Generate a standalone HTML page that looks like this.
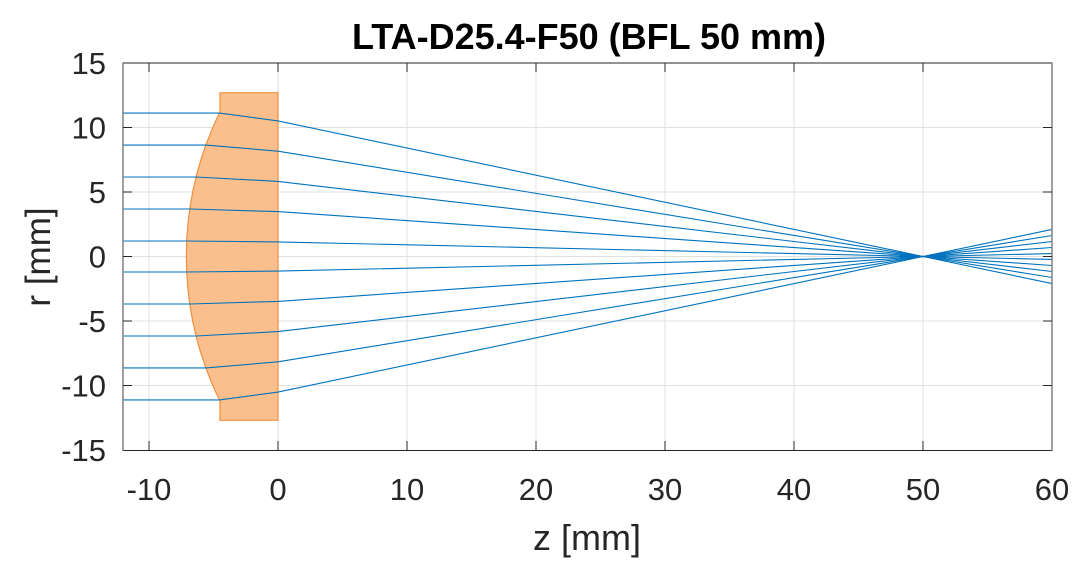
<!DOCTYPE html>
<html><head><meta charset="utf-8"><style>
html,body{margin:0;padding:0;background:#fff;}
svg{display:block;}
text{font-family:"Liberation Sans",sans-serif;fill:#262626;}
</style></head><body>
<svg width="1089" height="577" viewBox="0 0 1089 577" xmlns="http://www.w3.org/2000/svg">
<rect x="0" y="0" width="1089" height="577" fill="#fff"/>
<g stroke="#e0e0e0" stroke-width="1">
<line x1="149" y1="63" x2="149" y2="450"/><line x1="278" y1="63" x2="278" y2="450"/>
<line x1="407" y1="63" x2="407" y2="450"/><line x1="536" y1="63" x2="536" y2="450"/>
<line x1="665" y1="63" x2="665" y2="450"/><line x1="794" y1="63" x2="794" y2="450"/>
<line x1="923" y1="63" x2="923" y2="450"/>
<line x1="123" y1="127.5" x2="1052" y2="127.5"/><line x1="123" y1="192" x2="1052" y2="192"/>
<line x1="123" y1="256.5" x2="1052" y2="256.5"/><line x1="123" y1="321" x2="1052" y2="321"/>
<line x1="123" y1="385.5" x2="1052" y2="385.5"/>
</g>
<path d="M219.95,92.7 L219.95,112 A327.7,327.7 0 0 0 219.95,401 L219.95,420.3 L278,420.3 L278,92.7 Z" fill="#fbbf8e" stroke="#f0903f" stroke-width="1.2"/>
<g fill="none" stroke="#0072bd" stroke-width="1.1">
<polyline points="123,113.05 219.5,113.05 278,120.9 923,256.5 1052,283.6"/>
<polyline points="123,145.04 205.95,145.04 278,151.2 923,256.5 1052,277.5"/>
<polyline points="123,177 196.2,177 278,181.4 923,256.5 1052,271.5"/>
<polyline points="123,209 189.9,209 278,211.6 923,256.5 1052,265.5"/>
<polyline points="123,241 186.8,241 278,241.9 923,256.5 1052,259.4"/>
<polyline points="123,272 186.8,272 278,271.1 923,256.5 1052,253.6"/>
<polyline points="123,304 189.9,304 278,301.4 923,256.5 1052,247.5"/>
<polyline points="123,336 196.2,336 278,331.6 923,256.5 1052,241.5"/>
<polyline points="123,367.96 205.95,367.96 278,361.8 923,256.5 1052,235.5"/>
<polyline points="123,399.95 219.5,399.95 278,392.1 923,256.5 1052,229.4"/>
</g>
<rect x="123" y="63" width="929" height="387.5" fill="none" stroke="#262626" stroke-width="1"/>
<line x1="123" y1="63" x2="123" y2="450.5" stroke="#808080" stroke-width="1.5"/>
<line x1="1052" y1="63" x2="1052" y2="450.5" stroke="#808080" stroke-width="1.5"/>
<g stroke="#262626" stroke-width="1">
<line x1="149" y1="450" x2="149" y2="441"/><line x1="278" y1="450" x2="278" y2="441"/><line x1="407" y1="450" x2="407" y2="441"/><line x1="536" y1="450" x2="536" y2="441"/><line x1="665" y1="450" x2="665" y2="441"/><line x1="794" y1="450" x2="794" y2="441"/><line x1="923" y1="450" x2="923" y2="441"/>
<line x1="149" y1="63" x2="149" y2="72"/><line x1="278" y1="63" x2="278" y2="72"/><line x1="407" y1="63" x2="407" y2="72"/><line x1="536" y1="63" x2="536" y2="72"/><line x1="665" y1="63" x2="665" y2="72"/><line x1="794" y1="63" x2="794" y2="72"/><line x1="923" y1="63" x2="923" y2="72"/>
<line x1="123" y1="127.5" x2="132" y2="127.5"/><line x1="123" y1="192" x2="132" y2="192"/><line x1="123" y1="256.5" x2="132" y2="256.5"/><line x1="123" y1="321" x2="132" y2="321"/><line x1="123" y1="385.5" x2="132" y2="385.5"/>
<line x1="1052" y1="127.5" x2="1043" y2="127.5"/><line x1="1052" y1="192" x2="1043" y2="192"/><line x1="1052" y1="256.5" x2="1043" y2="256.5"/><line x1="1052" y1="321" x2="1043" y2="321"/><line x1="1052" y1="385.5" x2="1043" y2="385.5"/>
</g>
<g font-size="31" text-anchor="middle">
<text x="149" y="500">-10</text><text x="278" y="500">0</text><text x="407" y="500">10</text><text x="536" y="500">20</text><text x="665" y="500">30</text><text x="794" y="500">40</text><text x="923" y="500">50</text><text x="1052" y="500">60</text>
</g>
<g font-size="31" text-anchor="end">
<text x="106" y="74">15</text><text x="106" y="138.5">10</text><text x="106" y="203">5</text><text x="106" y="267.5">0</text><text x="106" y="332">-5</text><text x="106" y="396.5">-10</text><text x="106" y="461">-15</text>
</g>
<text x="587" y="550" font-size="36" text-anchor="middle">z [mm]</text>
<text transform="translate(50,257) rotate(-90)" font-size="35" text-anchor="middle">r [mm]</text>
<text x="589" y="49" font-size="36" font-weight="bold" text-anchor="middle" style="fill:#000">LTA-D25.4-F50 (BFL 50 mm)</text>
</svg>
</body></html>
